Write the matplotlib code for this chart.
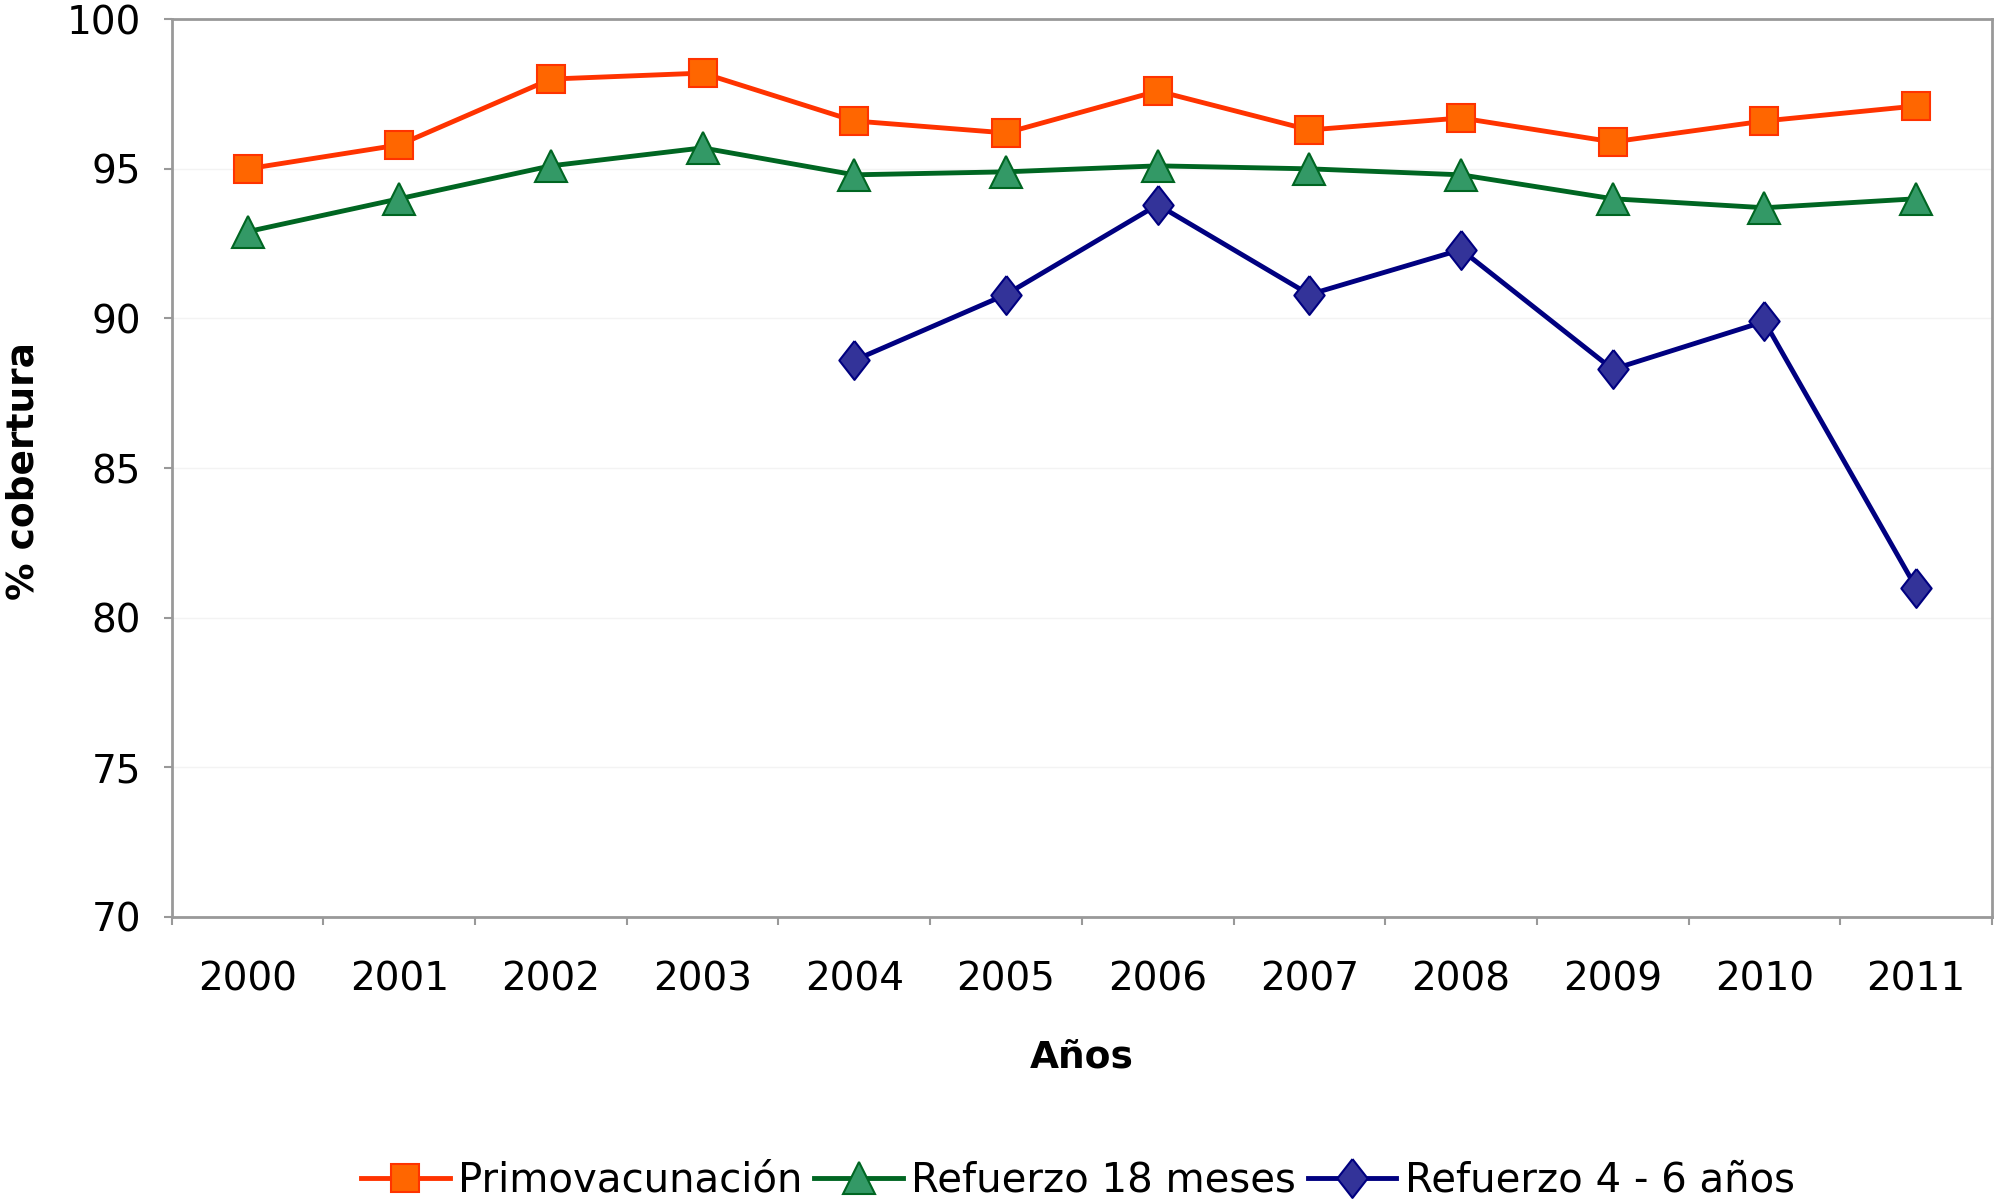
import matplotlib
matplotlib.use("Agg")
import matplotlib.pyplot as plt
import numpy as np

plt.rcParams['font.family'] = ['DejaVu Sans']

# datos
anios = ['2000', '2001', '2002', '2003', '2004', '2005',
         '2006', '2007', '2008', '2009', '2010', '2011']
primovacunacion = [95.0, 95.8, 98.0, 98.2, 96.6, 96.2, 97.6, 96.3, 96.7, 95.9, 96.6, 97.1]
refuerzo_18m = [92.9, 94.0, 95.1, 95.7, 94.8, 94.9, 95.1, 95.0, 94.8, 94.0, 93.7, 94.0]
refuerzo_4_6 = [np.nan, np.nan, np.nan, np.nan, 88.6, 90.8, 93.8, 90.8, 92.3, 88.3, 89.9, 81.0]

fig = plt.figure(figsize=(19.96, 12.01), dpi=100)
ax = fig.add_axes([0.086, 0.2365, 0.912, 0.7475])

x = np.arange(len(anios))
rombo = [(0, 1), (0.78, 0), (0, -1), (-0.78, 0), (0, 1)]

ax.plot(x, primovacunacion, color='#FF3300', lw=3.5, marker='s', ms=20,
        mfc='#FF6600', mec='#FF3300', mew=1.5, label='Primovacunación')
ax.plot(x, refuerzo_18m, color='#006622', lw=3.5, marker='^', ms=23,
        mfc='#339966', mec='#006622', mew=1.5, label='Refuerzo 18 meses')
ax.plot(x, refuerzo_4_6, color='#000080', lw=3.5, marker=rombo, ms=28,
        mfc='#333399', mec='#000080', mew=1.5, label='Refuerzo 4 - 6 años')

ax.set_xlim(-0.5, len(anios) - 0.5)
ax.set_ylim(70, 100)
ax.set_yticks(range(70, 101, 5))
ax.set_xticks(x)
ax.set_xticklabels(anios)
ax.set_xticks(np.arange(-0.5, len(anios), 1), minor=True)
ax.tick_params(axis='x', which='major', length=0, labelsize=28, pad=31)
ax.tick_params(axis='x', which='minor', length=6, color='#999999', width=1.5)
ax.tick_params(axis='y', length=6, color='#999999', width=1.5, labelsize=28, pad=16)

ax.grid(axis='y', color='#f3f3f3', lw=1)
ax.set_axisbelow(True)

for s in ax.spines.values():
    s.set_color('#999999')
    s.set_linewidth(2)

ax.set_xlabel('Años', fontsize=27, fontweight='bold', labelpad=30)
fig.text(0.012, 0.608, '% cobertura', rotation=90, ha='center', va='center',
         fontsize=27, fontweight='bold')

fig.legend(loc='lower center', bbox_to_anchor=(0.54, -0.03), ncol=3, frameon=False,
           fontsize=29, handlelength=2.2, handletextpad=0.2, columnspacing=0.3)

fig.savefig('out.png', dpi=100)
